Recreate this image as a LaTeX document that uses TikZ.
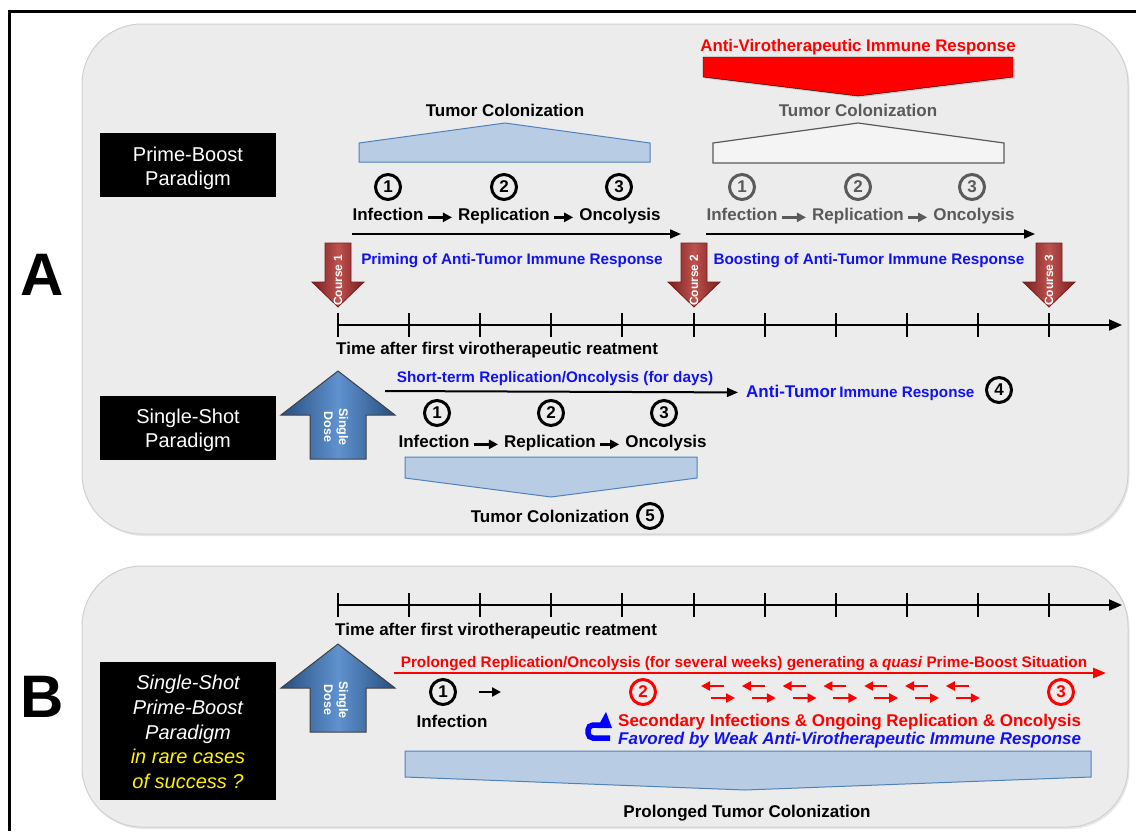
\documentclass[tikz,border=0pt]{standalone}
\usepackage{fontspec}
\setmainfont{Liberation Sans}
\usetikzlibrary{arrows.meta, positioning, shadows}

\definecolor{panelgray}{RGB}{236,236,236}
\definecolor{panelline}{RGB}{208,208,208}
\definecolor{colfill}{RGB}{184,204,228}
\definecolor{colline}{RGB}{79,129,189}
\definecolor{coursedark}{RGB}{120,30,30}
\definecolor{courselight}{RGB}{190,82,78}
\definecolor{dosedark}{RGB}{38,78,128}
\definecolor{doselight}{RGB}{96,146,206}
\definecolor{fadeline}{RGB}{90,90,90}
\definecolor{txtblue}{RGB}{18,18,240}

\newcommand{\coursearrow}[3]{%
  \draw[coursebody] (#1-13,243) -- (#1+13,243) -- (#1+13,282) -- (#1+26,282)
    -- (#1,307) -- (#1-26,282) -- (#1-13,282) -- cycle;
  \node[coursetext, rotate=90] (#2) at (#1,280) {Course #3};
}
\newcommand{\dosearrow}[3]{%
  \draw[dosebody] (#1,#2) -- (#1+57,#2+44) -- (#1+28,#2+44) -- (#1+28,#2+88)
    -- (#1-28,#2+88) -- (#1-28,#2+44) -- (#1-57,#2+44) -- cycle;
  \node[dosetext, rotate=-90] (#3) at (#1-2,#2+56) {Single\\Dose};
}

\tikzset{
  panel/.style={draw=panelline, fill=panelgray, line width=1pt, rounded corners=60pt,
    drop shadow={opacity=0.18, shadow xshift=1.5pt, shadow yshift=-2pt}},
  paradigm/.style={fill=black, minimum width=176pt, minimum height=64pt, inner sep=0pt},
  boxtext/.style={text=white, align=center, inner sep=0pt, font=\fontsize{20}{24}\selectfont},
  bigletter/.style={inner sep=0pt, font=\bfseries\fontsize{60}{60}\selectfont},
  stage/.style={inner sep=2pt, text height=0.75em, text depth=0.22em,
    font=\bfseries\fontsize{17}{20}\selectfont},
  fadedstage/.style={stage, text=fadeline},
  numc/.style={draw, circle, line width=3pt, minimum size=25pt, inner sep=0pt,
    font=\bfseries\fontsize{17}{17}\selectfont},
  fadednum/.style={numc, draw=fadeline, text=fadeline},
  rednum/.style={numc, draw=red, text=red},
  bluenote/.style={inner sep=0pt, text=txtblue, font=\bfseries\fontsize{15.3}{18}\selectfont},
  rednote/.style={inner sep=0pt, text=red, font=\bfseries\fontsize{16.8}{18}\selectfont},
  stagearrow/.style={line width=2.8pt, shorten <=2pt, shorten >=4pt, -{Triangle[length=9pt,width=9pt]}},
  fadedarrow/.style={stagearrow, fadeline},
  phasearrow/.style={line width=2pt, -{Triangle[length=11pt,width=9pt]}},
  timeline/.style={line width=2pt, -{Triangle[length=13pt,width=11pt]}},
  tick/.style={line width=2pt},
  prolongarrow/.style={red, line width=2.5pt, -{Triangle[length=13pt,width=10pt]}},
  smallred/.style={red, line width=2.4pt, -{Triangle[length=9pt,width=9pt]}},
  colblue/.style={fill=colfill, draw=colline, line width=1pt},
  colgray/.style={fill={rgb,255:red,244;green,244;blue,244}, draw=fadeline, line width=1.2pt},
  antivirshape/.style={fill=red, drop shadow={opacity=0.3, shadow xshift=1.5pt, shadow yshift=-1.5pt}},
  coursebody/.style={draw=coursedark, line width=0.8pt, left color=coursedark,
    right color=coursedark, middle color=courselight},
  coursetext/.style={text=white, inner sep=0pt, font=\bfseries\fontsize{12}{12}\selectfont},
  dosebody/.style={draw=black!75, line width=1pt, left color=dosedark,
    right color=dosedark, middle color=doselight},
  dosetext/.style={text=white, align=center, inner sep=0pt, font=\bfseries\fontsize{12.5}{15}\selectfont},
  hookline/.style={blue, line width=5.5pt, rounded corners=5pt},
}

\begin{document}
\begin{tikzpicture}[x=1pt, y=-1pt]
\useasboundingbox (0,0) rectangle (1136,831);

% frame and panels
\draw[line width=3pt] (9,831) -- (9,11) -- (1136,11);
\draw[panel] (82,24) rectangle (1128,534);
\draw[panel] (82,566) rectangle (1128,827);

\node[bigletter] (letA) at (42,275) {A};
\node[bigletter] (letB) at (42,697) {B};

\node[paradigm] (primebox) at (188,165) {};
\node[boxtext, yshift=-3pt] (primetext) at (primebox) {Prime-Boost\\Paradigm};
\node[paradigm] (singlebox) at (188,428) {};
\node[boxtext, yshift=-2.5pt] (singletext) at (singlebox) {Single-Shot\\Paradigm};
\node[paradigm, minimum height=138pt] (rarebox) at (188,731) {};
\node[boxtext, font=\itshape\fontsize{20}{24.8}\selectfont, yshift=-1pt] (raretext) at (rarebox)
  {Single-Shot\\Prime-Boost\\Paradigm\\\textcolor{yellow}{in rare cases}\\\textcolor{yellow}{of success ?}};

% prime-boost: anti-virotherapeutic response and colonization
\draw[antivirshape] (703,57) -- (1013,57) -- (1013,77) -- (858,96) -- (703,77) -- cycle;
\node[rednote, anchor=base] (antivir) at (858,51) {Anti-Virotherapeutic Immune Response};

\draw[colblue] (359,162) -- (359,143) -- (505,123) -- (650,143) -- (650,162) -- cycle;
\node[stage, anchor=base, inner sep=0pt] (colA1) at (505,116) {Tumor Colonization};
\draw[colgray] (713,163) -- (713,143) -- (858,123) -- (1004,143) -- (1004,163) -- cycle;
\node[fadedstage, anchor=base, inner sep=0pt] (colA2) at (858,116) {Tumor Colonization};

% first course
\node[numc] (n1a) at (388,187) {1};
\node[numc] (n2a) at (504,187) {2};
\node[numc] (n3a) at (619,187) {3};
\node[stage, anchor=base] (inf1) at (388,220) {Infection};
\node[stage, anchor=base] (rep1) at (504,220) {Replication};
\node[stage, anchor=base] (onc1) at (620,220) {Oncolysis};
\draw[stagearrow] (inf1) -- (rep1);
\draw[stagearrow] (rep1) -- (onc1);

% second course
\node[fadednum] (n1b) at (742,187) {1};
\node[fadednum] (n2b) at (858,187) {2};
\node[fadednum] (n3b) at (972,187) {3};
\node[fadedstage, anchor=base] (inf2) at (742,220) {Infection};
\node[fadedstage, anchor=base] (rep2) at (858,220) {Replication};
\node[fadedstage, anchor=base] (onc2) at (974,220) {Oncolysis};
\draw[fadedarrow] (inf2) -- (rep2);
\draw[fadedarrow] (rep2) -- (onc2);

\coordinate (pstart) at (352,234);
\coordinate (pend) at (681,234);
\coordinate (bstart) at (706,234);
\coordinate (bend) at (1035,234);
\draw[phasearrow] (pstart) -- (pend);
\draw[phasearrow] (bstart) -- (bend);
\node[bluenote, anchor=base] (priming) at (512,264) {Priming of Anti-Tumor Immune Response};
\node[bluenote, anchor=base] (boosting) at (869,264) {Boosting of Anti-Tumor Immune Response};

\coursearrow{338}{course1}{1}
\coursearrow{694}{course2}{2}
\coursearrow{1049}{course3}{3}

% time axis A
\coordinate (tA0) at (338,325);
\coordinate (tA1) at (1122,325);
\draw[timeline] (tA0) -- (tA1);
\foreach \i in {0,...,10}
  \draw[tick] (338+71.1*\i,313) -- (338+71.1*\i,337);
\node[stage, anchor=base west, inner sep=0pt] (timeA) at (336,354) {Time after first virotherapeutic reatment};

% single shot
\dosearrow{338}{371}{dose1}
\coordinate (sstart) at (385,391);
\node[anchor=base west, inner sep=0pt, text=txtblue, font=\bfseries] (antitumor) at (746,397)
  {{\fontsize{17}{20}\selectfont Anti-Tumor} {\fontsize{15.2}{18}\selectfont Immune Response}};
\draw[phasearrow] (sstart) -- ([xshift=-8pt]antitumor.west);
\node[bluenote, anchor=base] (shortterm) at (555,382) {Short-term Replication/Oncolysis (for days)};
\node[numc] (n4) at (999,390) {4};

\node[numc] (n1c) at (437,413) {1};
\node[numc] (n2c) at (551,413) {2};
\node[numc] (n3c) at (664,413) {3};
\node[stage, anchor=base] (inf3) at (434,447) {Infection};
\node[stage, anchor=base] (rep3) at (550,447) {Replication};
\node[stage, anchor=base] (onc3) at (666,447) {Oncolysis};
\draw[stagearrow] (inf3) -- (rep3);
\draw[stagearrow] (rep3) -- (onc3);

\draw[colblue] (405,457) -- (697,457) -- (697,478) -- (551,497) -- (405,478) -- cycle;
\node[stage, anchor=base, inner sep=0pt] (colA3) at (550,522) {Tumor Colonization};
\node[numc] (n5) at (650,516) {5};

% panel B
\coordinate (tB0) at (338,605);
\coordinate (tB1) at (1122,605);
\draw[timeline] (tB0) -- (tB1);
\foreach \i in {0,...,10}
  \draw[tick] (338+71.1*\i,593) -- (338+71.1*\i,617);
\node[stage, anchor=base west, inner sep=0pt] (timeB) at (335,635) {Time after first virotherapeutic reatment};

\dosearrow{338}{644}{dose2}

\node[inner sep=0pt, text=red, font=\bfseries\fontsize{15.3}{18}\selectfont, anchor=base] (prolonged) at (744,667)
  {Prolonged Replication/Oncolysis (for several weeks) generating a \textit{quasi} Prime-Boost Situation};
\coordinate (rstart) at (394,673);
\coordinate (rend) at (1106,673);
\draw[prolongarrow] (rstart) -- (rend);

\node[numc] (n1d) at (443,692) {1};
\coordinate (ia) at (479,692);
\coordinate (ib) at (501,692);
\draw[line width=2.6pt, -{Triangle[length=9pt,width=9pt]}] (ia) -- (ib);
\node[stage, anchor=base] (inf4) at (452,727) {Infection};
\node[rednum] (n2d) at (643,692) {2};
\node[rednum] (n3d) at (1061,692) {3};
\foreach \k in {0,...,6} {
  \draw[smallred] (724+40.8*\k,686) -- (701+40.8*\k,686);
  \draw[smallred] (711+40.8*\k,698) -- (735+40.8*\k,698);
}

\draw[hookline] (610,738) -- (588,738) -- (588,725) -- (603,725);
\fill[blue] (597,728) -- (612,728) -- (606,712) -- cycle;
\node[inner sep=0pt, text=red, font=\bfseries\fontsize{17}{18}\selectfont, anchor=base west] (secondary) at (618,726)
  {Secondary Infections \& Ongoing Replication \& Oncolysis};
\node[inner sep=0pt, text=txtblue, font=\bfseries\itshape\fontsize{17}{18}\selectfont, anchor=base west] (favored) at (618,744)
  {Favored by Weak Anti-Virotherapeutic Immune Response};

\draw[colblue] (405,751) -- (1091,751) -- (1091,777) -- (745,790) -- (405,777) -- cycle;
\node[stage, anchor=base, inner sep=0pt] (colB) at (747,817) {Prolonged Tumor Colonization};

\end{tikzpicture}
\end{document}
